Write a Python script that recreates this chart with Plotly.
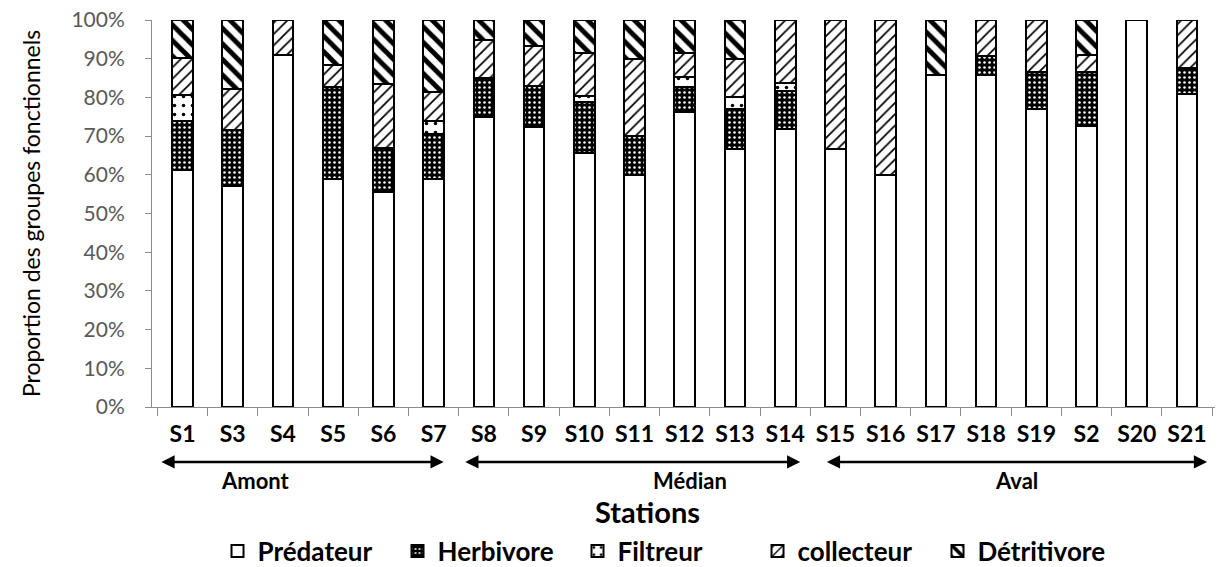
import plotly.graph_objects as go

# Stations and proportion (%) of each functional feeding group
stations = ["S1", "S3", "S4", "S5", "S6", "S7", "S8", "S9", "S10", "S11", "S12",
            "S13", "S14", "S15", "S16", "S17", "S18", "S19", "S2", "S20", "S21"]

predateur = [61.3, 57.0, 90.9, 58.8, 55.5, 59.0, 75.0, 72.3, 65.7, 60.0, 76.2,
             66.7, 71.8, 66.7, 60.0, 85.7, 85.7, 77.1, 72.6, 100.0, 81.0]
herbivore = [12.7, 14.5, 0.0, 23.8, 11.5, 11.5, 10.0, 10.7, 13.2, 10.0, 6.6,
             10.2, 9.9, 0.0, 0.0, 0.0, 5.1, 9.5, 14.0, 0.0, 6.7]
filtreur = [6.5, 0.0, 0.0, 0.0, 0.0, 3.5, 0.0, 0.0, 1.5, 0.0, 2.4,
            3.1, 2.1, 0.0, 0.0, 0.0, 0.0, 0.0, 0.0, 0.0, 0.0]
collecteur = [9.8, 10.7, 9.1, 5.9, 16.5, 7.5, 9.8, 10.3, 11.2, 19.9, 6.2,
              10.0, 16.2, 33.3, 40.0, 0.0, 9.2, 13.4, 4.4, 0.0, 12.3]
detritivore = [9.7, 17.8, 0.0, 11.5, 16.5, 18.5, 5.2, 6.7, 8.4, 10.1, 8.6,
               10.0, 0.0, 0.0, 0.0, 14.3, 0.0, 0.0, 9.0, 0.0, 0.0]

y_ticks = [0, 10, 20, 30, 40, 50, 60, 70, 80, 90, 100]

FONT = "Lato, Carlito, Calibri, sans-serif"
AXIS_GREY = "#8c8c8c"

series = [
    ("Prédateur", predateur, dict(color="white")),
    ("Herbivore", herbivore, dict(color="black",
                                  pattern=dict(shape=".", fgcolor="white", bgcolor="black",
                                               fgopacity=1, size=5, solidity=0.2))),
    ("Filtreur", filtreur, dict(color="white",
                                pattern=dict(shape=".", fgcolor="black", bgcolor="white",
                                             fgopacity=1, size=9, solidity=0.12))),
    ("collecteur", collecteur, dict(color="white",
                                    pattern=dict(shape="/", fgcolor="black", bgcolor="white",
                                                 fgopacity=1, size=8, solidity=0.22))),
    ("Détritivore", detritivore, dict(color="white",
                                      pattern=dict(shape="\\", fgcolor="black", bgcolor="white",
                                                   fgopacity=1, size=11, solidity=0.45))),
]

fig = go.Figure()
for name, vals, mk in series:
    mk = dict(mk)
    mk["line"] = dict(color="black", width=2)
    fig.add_trace(go.Bar(name=name, x=stations, y=vals, marker=mk))

fig.update_layout(
    barmode="stack",
    bargap=0.59,
    width=1222,
    height=567,
    margin=dict(l=152, r=7, t=20, b=160),
    paper_bgcolor="white",
    plot_bgcolor="white",
    font=dict(family=FONT, color="black"),
    legend=dict(
        orientation="h",
        xref="container", yref="container",
        x=0.178, xanchor="left",
        y=0.028, yanchor="middle",
        font=dict(family=FONT, size=26, weight="bold", color="black"),
        itemwidth=30,
        entrywidth=135,
        traceorder="normal",
    ),
    showlegend=True,
)

fig.update_xaxes(
    type="category",
    showline=True, linecolor=AXIS_GREY, linewidth=1,
    ticks="outside", tickson="boundaries", ticklen=8, tickcolor=AXIS_GREY,
    tickfont=dict(family=FONT, size=23, weight="bold", color="black"),
    ticklabelstandoff=6,
    showgrid=False,
    automargin=False,
)

fig.update_yaxes(
    range=[0, 100],
    tickvals=y_ticks,
    ticktext=[f"{v}%" for v in y_ticks],
    showline=True, linecolor=AXIS_GREY, linewidth=1,
    ticks="outside", ticklen=6, tickcolor=AXIS_GREY,
    tickfont=dict(family=FONT, size=21, color="#595959"),
    ticklabelstandoff=16,
    showgrid=False,
    automargin=False,
    title=dict(text="Proportion des groupes fonctionnels",
               font=dict(family=FONT, size=23, color="black"),
               standoff=24),
)

# Upstream / middle / downstream arrows under the station labels
zones = [("Amont", -0.45, 5.2, 1.45), ("Médian", 5.6, 12.3, 10.1), ("Aval", 12.8, 20.4, 16.6)]
for label, x0, x1, xl in zones:
    fig.add_annotation(
        x=x1, y=-0.142, xref="x", yref="paper",
        ax=x0, ay=0, axref="x", ayref="pixel",
        showarrow=True, arrowhead=2, arrowside="end+start",
        arrowsize=1.1, arrowwidth=2.4, arrowcolor="black", text="",
    )
    fig.add_annotation(
        x=xl, y=-0.19, xref="x", yref="paper", showarrow=False,
        text=label, font=dict(family=FONT, size=22, weight="bold", color="black"),
        yanchor="middle",
    )

fig.add_annotation(
    x=0.466, y=-0.27, xref="paper", yref="paper", showarrow=False,
    text="Stations", font=dict(family=FONT, size=29, weight="bold", color="black"),
    yanchor="middle",
)

fig.write_html("out.html")
